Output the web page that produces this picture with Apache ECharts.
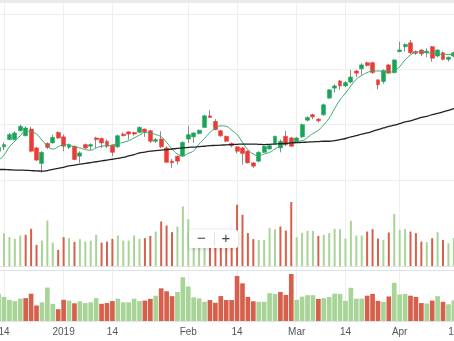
<!DOCTYPE html>
<html>
<head>
<meta charset="utf-8">
<script src="https://cdn.jsdelivr.net/npm/echarts@6/dist/echarts.min.js"></script>
<style>
html,body{margin:0;padding:0;overflow:hidden;background:#fff;width:454px;height:341px}
#chart{position:absolute;left:-20px;top:0;width:500px;height:341px}
</style>
</head>
<body>
<div id="chart"></div>
<script>
// Trading days shown in the window
const dates = [
  "2018-12-13","2018-12-14","2018-12-17","2018-12-18","2018-12-19","2018-12-20","2018-12-21","2018-12-24","2018-12-26","2018-12-27","2018-12-28","2018-12-31",
  "2019-01-01","2019-01-02","2019-01-03","2019-01-04","2019-01-07","2019-01-08","2019-01-09","2019-01-10","2019-01-11","2019-01-14","2019-01-15","2019-01-16","2019-01-17","2019-01-18","2019-01-21","2019-01-22","2019-01-23","2019-01-24","2019-01-25","2019-01-28","2019-01-29","2019-01-30","2019-01-31",
  "2019-02-01","2019-02-04","2019-02-05","2019-02-06","2019-02-07","2019-02-08","2019-02-11","2019-02-12","2019-02-13","2019-02-14","2019-02-15","2019-02-18","2019-02-19","2019-02-20","2019-02-21","2019-02-22","2019-02-25","2019-02-26","2019-02-27","2019-02-28",
  "2019-03-01","2019-03-04","2019-03-05","2019-03-06","2019-03-07","2019-03-08","2019-03-11","2019-03-12","2019-03-13","2019-03-14","2019-03-15","2019-03-18","2019-03-19","2019-03-20","2019-03-25","2019-03-26","2019-03-27","2019-03-28","2019-03-29",
  "2019-04-01","2019-04-02","2019-04-03","2019-04-04","2019-04-05","2019-04-08","2019-04-09","2019-04-10","2019-04-11","2019-04-12","2019-04-15","2019-04-16"
];

// [open, close, low, high]
const candles = [
  [145.2,145.9,145.0,146.1],
  [146.0,146.4,145.4,146.8],[147.3,148.2,147.2,148.5],[147.3,148.5,147.2,148.8],[148.9,149.7,148.8,150.0],
  [148.0,149.4,147.9,149.7],[149.2,145.2,145.0,149.6],[145.8,143.6,143.4,146.0],[143.0,145.0,141.3,145.2],
  [146.6,145.9,145.6,146.8],[146.7,147.7,146.6,148.2],[148.6,147.6,147.4,148.8],[147.8,146.1,145.2,148.2],
  [145.9,146.4,145.6,146.6],[146.1,143.7,143.6,146.2],[144.3,144.9,143.1,145.2],[146.4,145.8,145.6,146.6],
  [146.1,146.4,145.4,146.6],[147.6,147.3,145.8,147.8],[147.5,146.7,145.8,147.7],[147.0,146.1,145.8,147.3],
  [146.3,145.0,144.3,146.4],[146.0,148.0,145.8,148.2],[148.3,148.0,147.9,148.6],[148.7,148.3,147.3,148.8],
  [148.6,148.3,148.0,148.7],[148.6,149.5,148.5,149.7],[149.2,148.7,147.8,149.3],[148.9,147.0,146.7,149.1],
  [147.0,147.3,146.7,147.6],[147.4,146.0,145.8,148.8],[145.8,143.2,143.1,146.1],[143.4,143.1,142.2,143.8],
  [144.3,143.4,142.8,144.4],[144.3,146.8,144.2,147.0],[147.4,148.2,146.7,149.8],[147.8,148.5,146.7,148.6],
  [148.4,149.0,148.2,149.1],[149.5,151.6,149.4,151.8],[151.6,151.3,151.2,152.6],[150.6,149.1,149.0,151.0],
  [148.9,148.0,147.8,149.1],[147.9,147.0,146.8,148.0],[146.6,146.2,145.9,146.8],[146.0,145.2,144.8,146.1],
  [145.8,144.8,142.8,146.0],[145.2,143.1,143.0,145.4],[143.1,142.5,142.2,143.2],[143.4,145.0,143.2,145.2],
  [145.0,146.1,144.9,146.2],[145.6,146.2,145.5,146.4],[146.6,147.9,146.4,148.0],[145.8,147.0,145.0,147.3],
  [147.9,146.4,146.1,148.9],[147.6,146.1,146.0,147.8],[147.0,147.6,146.8,147.8],[147.8,150.0,147.6,150.2],
  [150.8,151.3,150.6,151.5],[151.8,151.4,151.0,152.0],[151.0,150.7,150.4,151.2],[151.8,153.6,151.6,153.8],
  [154.8,156.3,154.7,156.4],[156.6,157.0,155.8,157.3],[157.9,157.0,156.3,158.1],[157.0,157.6,156.8,157.9],
  [157.7,158.6,157.5,159.9],[159.7,159.3,158.6,159.9],[160.1,160.8,159.0,161.1],[161.2,160.7,160.5,161.4],
  [161.2,159.4,159.2,161.4],[158.1,157.2,156.4,158.2],[157.8,159.8,157.4,160.0],[160.8,159.3,159.2,161.0],
  [159.4,161.7,159.3,161.8],[163.2,163.5,163.1,165.0],[164.1,164.5,163.2,164.7],[164.8,163.0,162.8,165.3],
  [163.2,162.9,162.6,163.4],[163.5,162.8,162.4,163.6],[163.0,163.3,162.2,163.8],[164.1,162.0,161.4,164.2],
  [162.4,163.5,162.2,163.6],[163.0,161.8,161.6,163.2],[161.8,162.2,161.4,162.3],[162.4,163.0,162.2,163.2],
  [162.8,163.3,162.6,163.5]
];

const volumes = [
  37,
  32.7,28.7,27,30.3,31,37,21,25.3,45.3,23.3,16,28.7,27.7,24,26.7,24.3,25.3,31,23.3,24.3,27,30.3,25.3,25.3,30.3,27,27.7,
  30,
  34.3,44.3,40.3,33.7,39.3,59.3,46.7,32,30.7,26,28.4,24.7,33.8,28.4,28.4,61,51,32.7,26.7,26,26,37.7,36.7,39.3,35.3,63.7,28.7,
  33,35,35,30,31,32.7,37,36.7,27.3,45,30.3,30.3,34.3,36.7,27.3,26,33.3,51.7,36,36.7,34.3,32.7,24.3,23.7,27.7,33.7,26,22.7,28,30
];

// Short moving average (green)
const maShort = [
  143.5,
  144.5,146.0,147.0,148.0,148.8,148.7,148.3,147.2,146.2,145.6,
  146.0,146.4,146.3,146.0,145.8,145.5,145.4,145.8,146.1,146.2,
  146.3,146.6,146.8,147.1,147.6,148.1,148.6,148.5,148.2,147.8,
  146.8,145.6,144.7,144.4,144.8,145.3,146.5,147.5,148.6,149.3,
  149.8,149.7,149.0,148.2,146.8,145.5,144.7,144.4,144.7,145.0,
  145.6,146.2,146.5,146.8,147.0,147.1,147.7,148.4,149.0,150.0,
  151.2,152.9,154.5,155.7,157.0,158.2,158.9,159.4,159.7,159.7,
  159.6,159.5,159.7,160.5,161.7,162.6,163.1,163.2,163.0,162.9,
  162.8,162.7,162.7,162.6,162.6
];

// Long moving average (black)
const maLong = [
  141.9,
  141.9,141.85,141.8,141.8,141.75,141.7,141.65,141.6,141.7,141.9,
  142.1,142.3,142.55,142.7,142.85,143.0,143.15,143.3,143.45,143.6,
  143.75,143.9,144.1,144.35,144.6,144.9,145.05,145.2,145.3,145.4,
  145.5,145.6,145.7,145.8,145.9,145.95,146.05,146.1,146.2,146.25,
  146.3,146.35,146.4,146.45,146.5,146.5,146.5,146.45,146.4,146.45,
  146.5,146.55,146.6,146.7,146.75,146.8,146.85,146.9,146.95,147.0,
  147.0,147.1,147.3,147.5,147.8,148.0,148.3,148.5,148.8,149.1,
  149.4,149.7,149.9,150.2,150.5,150.7,151.0,151.3,151.5,151.8,
  152.05,152.3,152.6,152.9,153.1
];

const tickDates = ["2018-12-14","2019-01-01","2019-01-14","2019-02-01","2019-02-14","2019-03-01","2019-03-14","2019-04-01","2019-04-15"];
const tickTexts = ["14","2019","14","Feb","14","Mar","14","Apr","15"];

const UP = '#19a558', DOWN = '#ec3a34', WICK = '#8c8c8c';
const VOL_UP = '#a8d497', VOL_DOWN = '#d6604b';
const GRID_LINE = '#eeeeee';
const FONT = '"Liberation Sans", Arial, sans-serif';

const isTick = (idx, value) => tickDates.indexOf(value) >= 0;

// bodies only: wick collapsed onto the body
const bodies = candles.map(c => [c[0], c[1], Math.min(c[0], c[1]), Math.max(c[0], c[1])]);
// volume colour follows the close versus the previous close
const volColors = candles.map((c, i) => (i === 0 || c[1] >= candles[i - 1][1]) ? VOL_UP : VOL_DOWN);
const volData = volumes.map((v, i) => ({ value: v, itemStyle: { color: volColors[i] } }));

const chart = echarts.init(document.getElementById('chart'), null, { renderer: 'canvas' });

const gridLeft = 18.58, gridRight = 20.72;
const hiddenX = (gi) => ({
  gridIndex: gi, type: 'category', data: dates, boundaryGap: false,
  axisLine: { show: false }, axisTick: { show: false }, axisLabel: { show: false }, splitLine: { show: false }
});

chart.setOption({
  animation: false,
  backgroundColor: '#ffffff',
  grid: [
    { left: gridLeft, right: gridRight, top: 14, height: 166 },
    { left: gridLeft, right: gridRight, top: 202, height: 64 },
    { left: gridLeft, right: gridRight, top: 274, height: 47 },
    { left: gridLeft, right: gridRight, top: 3, height: 318 }
  ],
  xAxis: [
    hiddenX(0),
    Object.assign(hiddenX(1), { axisLine: { show: true, lineStyle: { color: '#e2e2e2' } } }),
    {
      gridIndex: 2, type: 'category', data: dates, boundaryGap: false,
      axisLine: { show: true, lineStyle: { color: '#e4e4e4' } },
      axisTick: { show: false },
      splitLine: { show: false },
      axisLabel: {
        interval: isTick, margin: 6, color: '#555', fontSize: 10, fontFamily: FONT,
        formatter: (v) => { const k = tickDates.indexOf(v); return k >= 0 ? tickTexts[k] : ''; }
      }
    },
    {
      gridIndex: 3, type: 'category', data: dates, boundaryGap: false,
      axisLine: { show: false }, axisTick: { show: false }, axisLabel: { show: false },
      splitLine: { show: true, interval: isTick, lineStyle: { color: '#efefef', width: 1 } }
    }
  ],
  yAxis: [
    { gridIndex: 0, type: 'value', min: 140, max: 170, interval: 10,
      axisLine: { show: false }, axisTick: { show: false }, axisLabel: { show: false },
      splitLine: { show: true, lineStyle: { color: GRID_LINE } } },
    { gridIndex: 1, type: 'value', min: 0, max: 'dataMax', show: false, splitLine: { show: false } },
    { gridIndex: 2, type: 'value', min: 0, max: 'dataMax', show: false, splitLine: { show: false } },
    { gridIndex: 3, type: 'value', min: 0, max: 1, show: false, splitLine: { show: false } }
  ],
  series: [
    {
      name: 'range', type: 'candlestick', xAxisIndex: 0, yAxisIndex: 0, data: candles, barWidth: 1,
      itemStyle: { color: WICK, color0: WICK, borderColor: WICK, borderColor0: WICK, borderWidth: 1 }
    },
    {
      name: 'body', type: 'candlestick', xAxisIndex: 0, yAxisIndex: 0, data: bodies, barWidth: 4.4,
      itemStyle: { color: UP, color0: DOWN, borderColor: UP, borderColor0: DOWN, borderWidth: 0.5 }
    },
    {
      name: 'MA short', type: 'line', xAxisIndex: 0, yAxisIndex: 0, data: maShort, smooth: true,
      showSymbol: false, lineStyle: { color: '#37a86f', width: 1 }
    },
    {
      name: 'MA long', type: 'line', xAxisIndex: 0, yAxisIndex: 0, data: maLong, smooth: true,
      showSymbol: false, lineStyle: { color: '#222222', width: 1.3 }
    },
    {
      name: 'volume', type: 'bar', xAxisIndex: 1, yAxisIndex: 1, data: volData, barWidth: 2
    },
    {
      name: 'volume overview', type: 'bar', xAxisIndex: 2, yAxisIndex: 2, data: volData, barCategoryGap: '14%'
    }
  ],
  graphic: [
    { type: 'rect', z: 100, shape: { x: 0, y: 0, width: 500, height: 3 }, style: { fill: '#ebebeb' } },
    { type: 'line', z: 100, shape: { x1: 0, y1: 270.5, x2: 500, y2: 270.5 }, style: { stroke: '#dbe3ec', lineWidth: 1 } },
    { type: 'rect', z: 100, shape: { x: 209, y: 230, width: 49, height: 18, r: 2 },
      style: { fill: '#ffffff', shadowBlur: 5, shadowColor: 'rgba(0,0,0,0.18)', shadowOffsetY: 1 } },
    { type: 'line', z: 101, shape: { x1: 234.5, y1: 232, x2: 234.5, y2: 246 }, style: { stroke: '#e2e2e2', lineWidth: 1 } },
    { type: 'text', z: 101, x: 221.5, y: 239, style: { text: '\u2212', fill: '#444', fontSize: 15, fontFamily: FONT, align: 'center', verticalAlign: 'middle' } },
    { type: 'text', z: 101, x: 246, y: 239, style: { text: '+', fill: '#444', fontSize: 15, fontFamily: FONT, align: 'center', verticalAlign: 'middle' } }
  ]
});
</script>
</body>
</html>
